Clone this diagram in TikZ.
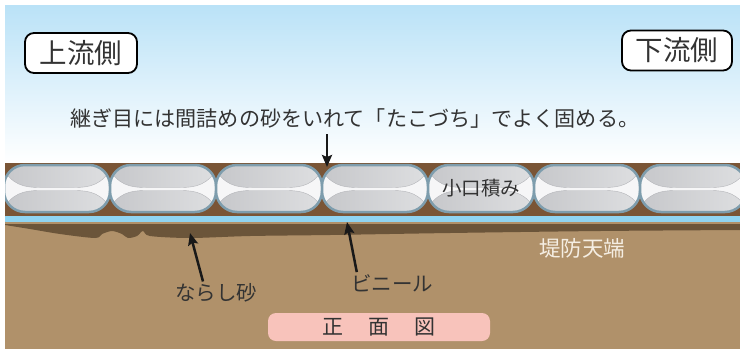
\documentclass[tikz,border=0pt]{standalone}
\usepackage{fontspec}
\setmainfont{Noto Sans CJK JP}
\usepackage{tikz}
\usetikzlibrary{arrows.meta,positioning,calc}

\definecolor{skytop}{RGB}{186,226,247}
\definecolor{bedbrown}{RGB}{122,85,54}
\definecolor{groundtan}{RGB}{176,145,106}
\definecolor{sanddark}{RGB}{107,85,58}
\definecolor{vinylblue}{RGB}{143,212,242}
\definecolor{bagedge}{RGB}{126,157,173}
\definecolor{baglight}{RGB}{246,246,247}
\definecolor{lobeL}{RGB}{198,199,202}
\definecolor{lobeR}{RGB}{222,223,225}
\definecolor{lobeline}{RGB}{180,181,185}
\definecolor{viewpink}{RGB}{248,195,187}
\definecolor{textgray}{RGB}{51,51,51}
\definecolor{crestwhite}{RGB}{245,238,227}

\begin{document}
\begin{tikzpicture}[x=1pt,y=-1pt,
    sidebox/.style={draw=black,line width=1.8pt,rounded corners=9pt,fill=white,
      minimum height=40pt,inner sep=0pt,text=textgray,font=\fontsize{27.5}{30}\selectfont},
    label/.style={inner sep=0pt,text=textgray,font=\fontsize{20.5}{24}\selectfont},
    viewbox/.style={fill=viewpink,rounded corners=8pt,minimum width=222pt,minimum height=28pt,
      inner sep=0pt,text=textgray,font=\fontsize{21}{24}\selectfont},
    pointer/.style={line width=2.5pt,draw=black!90,-{Stealth[length=12pt,width=10pt,inset=2pt]}},
   ]
    \useasboundingbox (0,0) rectangle (740,349);
    \clip (5,5) rectangle (740,349);

    % sky, bed and ground
    \shade[top color=skytop,bottom color=white] (5,5) rectangle (740,163);
    \fill[bedbrown] (5,163) rectangle (740,216);
    \fill[groundtan] (5,216) rectangle (740,349);
    \fill[sanddark] (5,224) -- (740,224) -- (740,230)
        -- plot[smooth] coordinates {(740,230) (600,231) (450,233) (330,235) (250,236) (190,238)
           (150,236) (143,231) (137,236) (128,238) (122,234) (112,231) (102,234) (95,238)
           (60,234) (30,229) (5,225)} -- cycle;
    \draw[vinylblue,line width=6pt,line cap=round] (6,219) -- (745,219);

    % sandbags
    \foreach \x [count=\i] in {4,110,216,322,428,534,640} {
      \begin{scope}
        \clip[rounded corners=21pt] (\x,165) rectangle ++(106,47);
        \fill[baglight] (\x,165) rectangle ++(106,47);
        \shade[left color=lobeL,right color=lobeR,draw=lobeline,thin]
            (\x-2,150) -- (\x-2,167) .. controls (\x+8,185) and (\x+20,187.5) .. (\x+36,187.5)
            -- (\x+70,187.5) .. controls (\x+86,187.5) and (\x+98,185) .. (\x+108,167)
            -- (\x+108,150) -- cycle;
        \shade[left color=lobeL,right color=lobeR,draw=lobeline,thin]
            (\x-2,228) -- (\x-2,211) .. controls (\x+8,193) and (\x+20,190.5) .. (\x+36,190.5)
            -- (\x+70,190.5) .. controls (\x+86,190.5) and (\x+98,193) .. (\x+108,211)
            -- (\x+108,228) -- cycle;
      \end{scope}
      \draw[bagedge,line width=2.5pt,rounded corners=21pt] (\x,165) rectangle ++(106,47);
      \coordinate (bag\i) at (\x+53,188.5);
    }

    \node (upstream) [sidebox,minimum width=112pt] at (81,53) {上流側};
    \node (downstream) [sidebox,minimum width=110pt] at (677,50.5) {下流側};

    \node (caption) [label,anchor=west,font=\fontsize{21.1}{24}\selectfont] at (70,118) {継ぎ目には間詰めの砂をいれて「たこづち」でよく固める。};
    \node (kokuchi) [label,font=\fontsize{19.5}{22}\selectfont] at (bag5) {小口積み};
    \node (crest) [label,text=crestwhite,font=\fontsize{21.5}{24}\selectfont] at (582,248) {堤防天端};
    \node (vinyl) [label] at (392,283) {ビニール};
    \node (sand) [label] at (216,293) {ならし砂};
    \node (front) [viewbox] at (379,327) {正\hspace{25pt}面\hspace{25pt}図};

    \coordinate (joint) at (327,167);
    \coordinate (sheet) at (347,222);
    \coordinate (sandtop) at (190,233);

    \draw[pointer] (caption.south -| joint) ++(0,6) -- (joint);
    \draw[pointer] ([xshift=6pt,yshift=2pt]vinyl.north west) -- (sheet);
    \draw[pointer] ([xshift=-13pt,yshift=2pt]sand.north) -- (sandtop);
\end{tikzpicture}
\end{document}
